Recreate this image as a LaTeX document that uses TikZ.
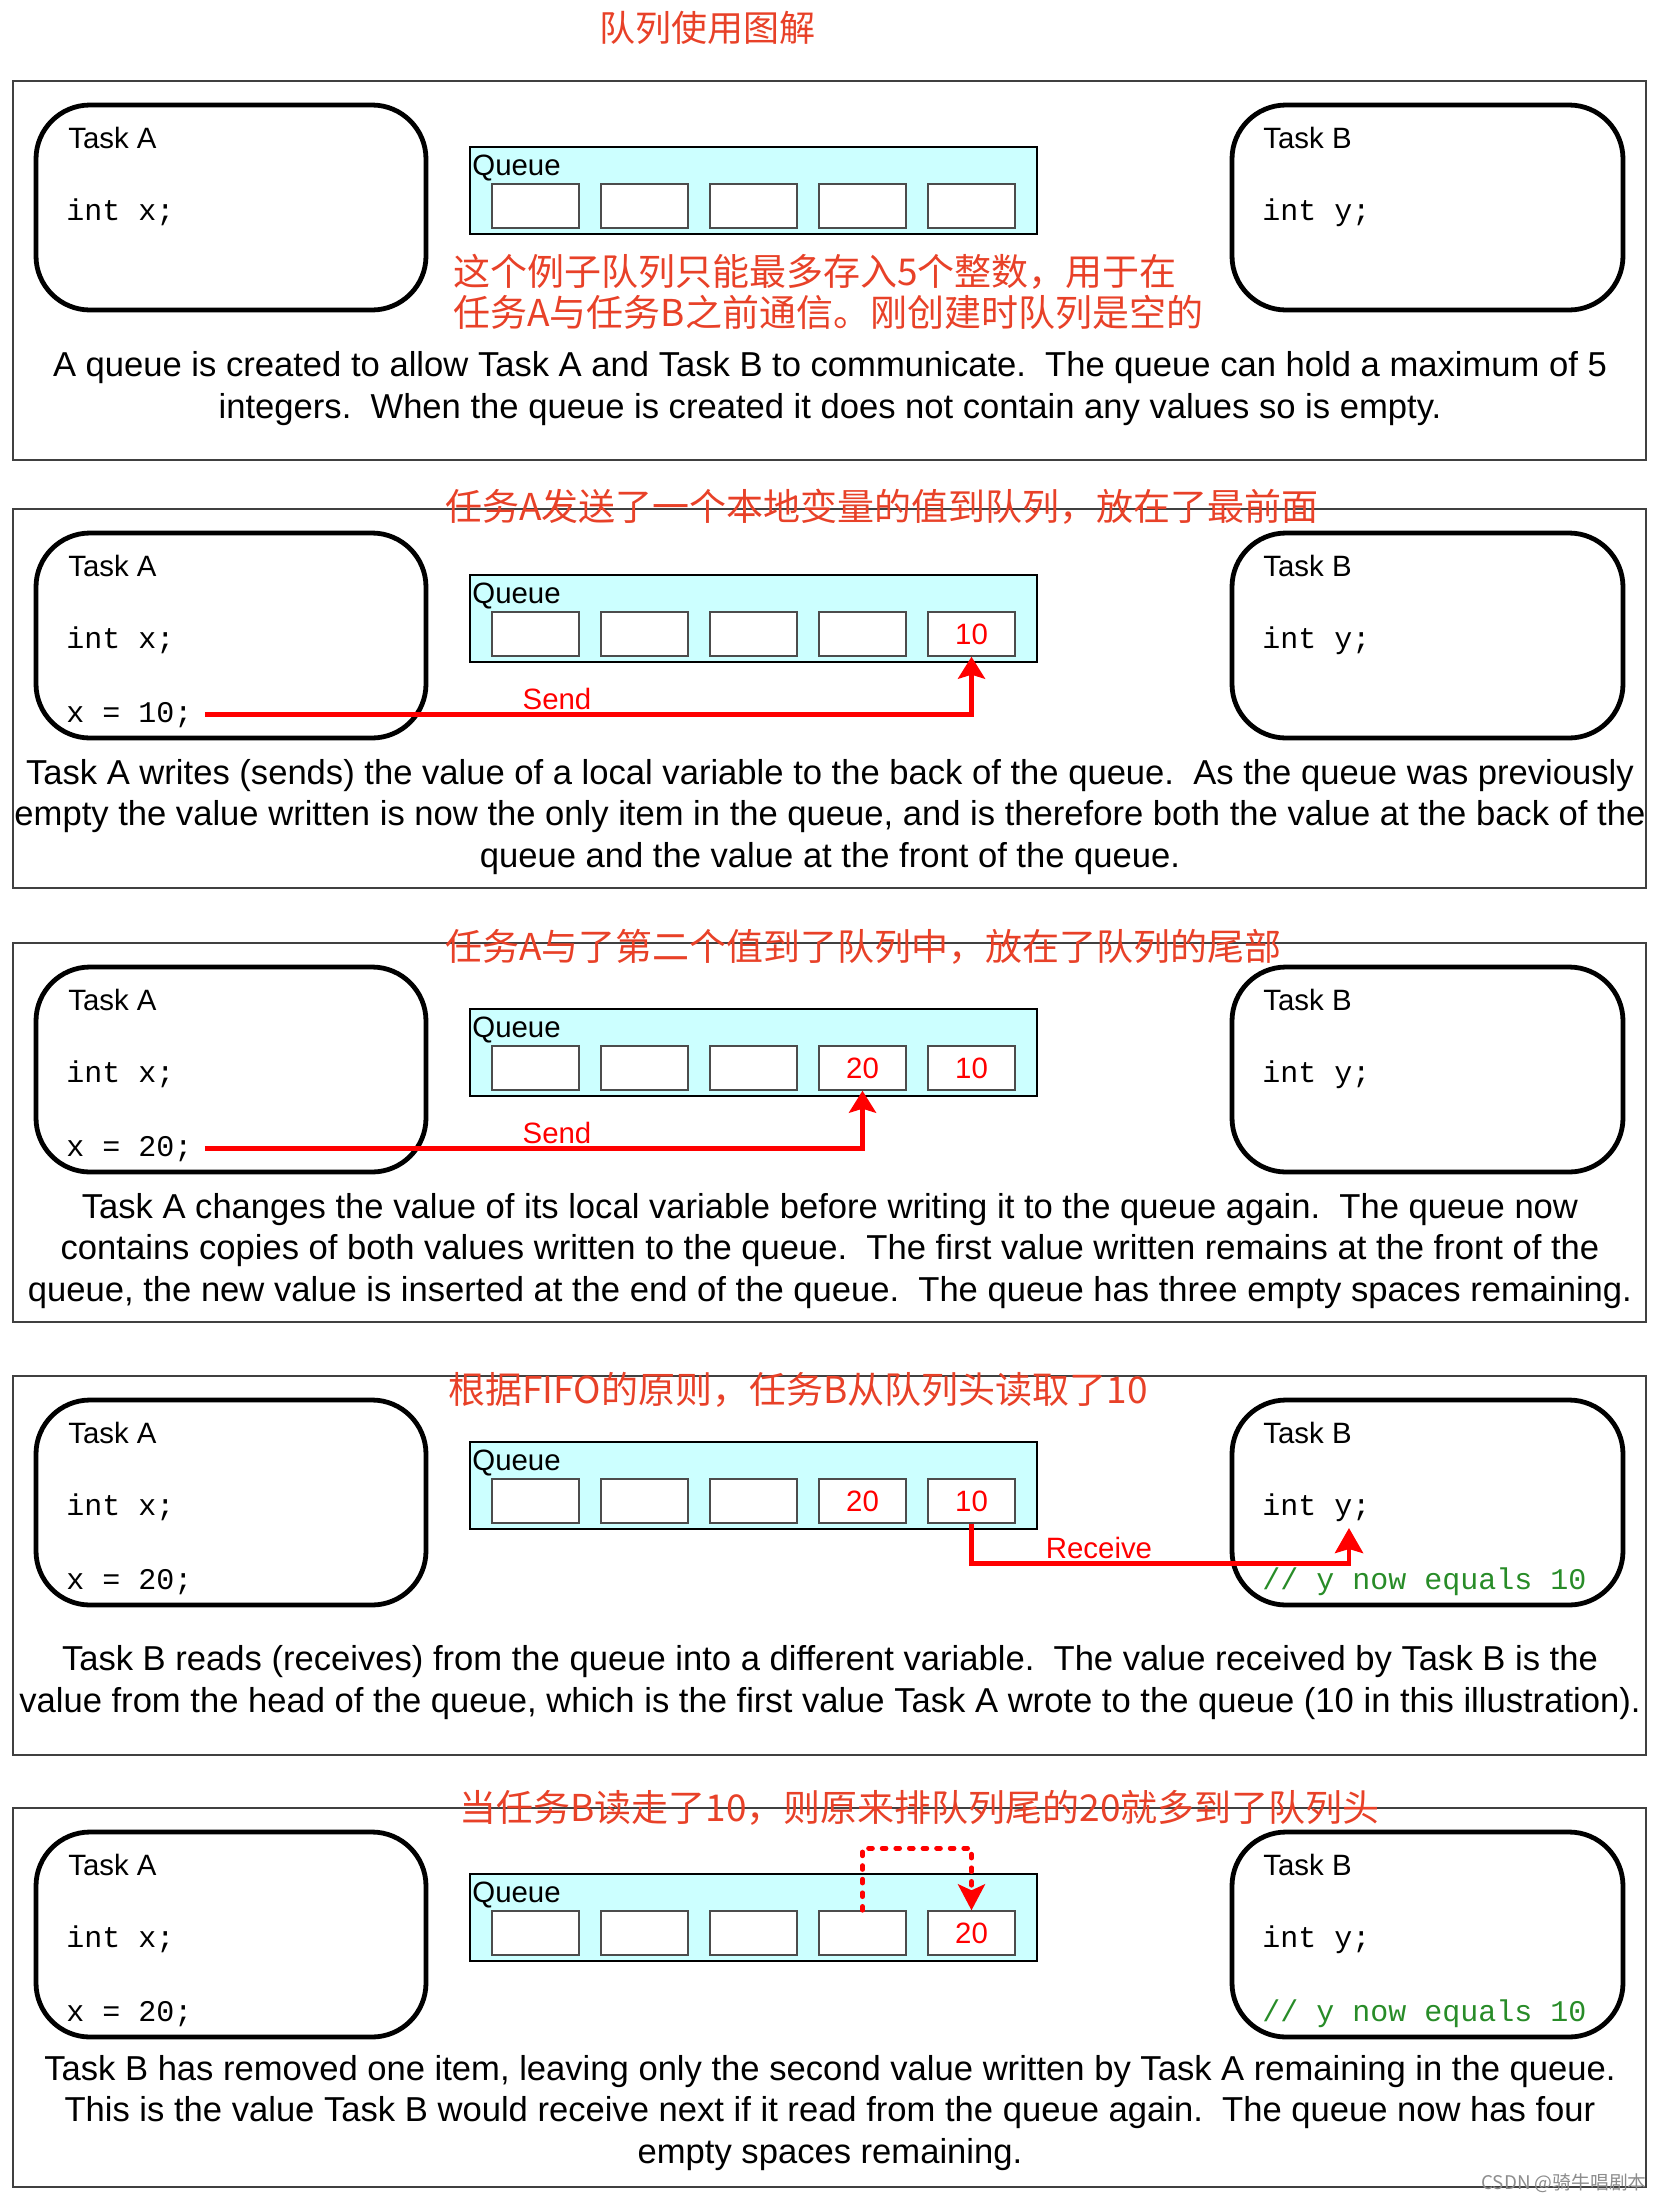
\documentclass[tikz,border=0pt]{standalone}
\usepackage{fontspec}
\setmainfont{Liberation Sans}
\setmonofont{Liberation Mono}
\newfontfamily\cjk{Noto Sans CJK SC}
\usetikzlibrary{arrows.meta}

\definecolor{qcyan}{RGB}{204,255,255}
\definecolor{notered}{RGB}{232,65,40}
\definecolor{cmtgreen}{RGB}{40,140,40}

\newcommand\taskfont{\fontsize{14.7}{17}\selectfont}
\newcommand\codefont{\ttfamily\fontsize{15}{17}\selectfont}
\newcommand\descfont{\fontsize{17.3}{20.75}\selectfont}
\newcommand\notefont{\cjk\fontsize{18.5}{20.5}\selectfont}
\newcommand\wmfont{\cjk\fontsize{9.4}{11}\selectfont}

\tikzset{
  panel/.style={draw=black!75, line width=0.8pt},
  taskbox/.style={draw=black, line width=2.4pt, rounded corners=27pt},
  queuebox/.style={draw=black, fill=qcyan, line width=0.6pt},
  cell/.style={draw=black!70, fill=white, line width=0.7pt, inner sep=0pt,
    minimum width=43.5pt, minimum height=22pt},
  tasktxt/.style={anchor=base west, inner sep=0pt, font=\taskfont},
  codetxt/.style={anchor=base west, inner sep=0pt, font=\codefont},
  val/.style={inner sep=0pt, text=red, font=\taskfont},
  redlbl/.style={anchor=base, inner sep=0pt, text=red, font=\taskfont},
  cnnote/.style={anchor=west, inner sep=0pt, text=notered, font=\notefont},
  desc/.style={anchor=base, align=center, inner sep=0pt, font=\descfont},
  sendline/.style={draw=red, line width=2.3pt,
    -{Stealth[length=11pt, width=13.5pt, inset=2pt]}},
  moved/.style={draw=red, line width=2.3pt, line cap=round,
    dash pattern=on 2pt off 4.8pt,
    -{Stealth[length=13pt, width=13.5pt, inset=3pt]}}
}

\begin{document}
\begin{tikzpicture}[x=0.5pt, y=-0.5pt]
  \path[use as bounding box] (0,0) rectangle (1662,2202);

  \node[cnnote, anchor=center, font=\cjk\fontsize{18}{20}\selectfont] (title) at (707,28) {队列使用图解};

  % the same frame, tasks and queue in every step
  \foreach \k/\t in {1/81, 2/509, 3/943, 4/1376, 5/1808} {
    \draw[panel] (13,\t) rectangle (1646,\t+379);
    \draw[taskbox] (36,\t+24) rectangle (426,\t+229);
    \draw[taskbox] (1232,\t+24) rectangle (1623,\t+229);
    \draw[queuebox] (470,\t+66) rectangle (1037,\t+153);
    \node[tasktxt] (ql\k) at (472,\t+94) {Queue};
    \foreach \i in {1,...,5}
      \node[cell] (q\k-\i) at (535.5+109*\i-109,\t+125) {};
    \node[tasktxt] (ta\k) at (68,\t+67) {Task A};
    \node[codetxt] (ix\k) at (66,\t+139) {int x;};
    \node[tasktxt] (tb\k) at (1263,\t+67) {Task B};
    \node[codetxt] (iy\k) at (1262,\t+139) {int y;};
  }

  % step 1: empty queue
  \node[cnnote, align=left] (n1) at (453,292) {这个例子队列只能最多存入5个整数，用于在\\任务A与任务B之前通信。刚创建时队列是空的};
  \node[desc] (d1) at (830,418) {A queue is created to allow Task A and Task B to communicate.\ \ The queue can hold a maximum of 5\\
    integers.\ \ When the queue is created it does not contain any values so is empty.};

  % step 2: send 10
  \node[cnnote] (n2) at (445,507) {任务A发送了一个本地变量的值到队列，放在了最前面};
  \node[codetxt] (xa2) at (66,722) {x = 10;};
  \node[val] (v2-5) at (q2-5) {10};
  \draw[sendline] ([xshift=6pt]xa2.east) -| (q2-5.south);
  \node[redlbl] (s2) at (557,709) {Send};
  \node[desc] (d2) at (830,867) {Task A writes (sends) the value of a local variable to the back of the queue.\ \ As the queue was previously\\
    empty the value written is now the only item in the queue, and is therefore both the value at the back of the\\
    queue and the value at the front of the queue.};

  % step 3: send 20
  \node[cnnote] (n3) at (445,947) {任务A与了第二个值到了队列中，放在了队列的尾部};
  \node[codetxt] (xa3) at (66,1156) {x = 20;};
  \node[val] (v3-4) at (q3-4) {20};
  \node[val] (v3-5) at (q3-5) {10};
  \draw[sendline] ([xshift=6pt]xa3.east) -| (q3-4.south);
  \node[redlbl] (s3) at (557,1143) {Send};
  \node[desc] (d3) at (830,1301) {Task A changes the value of its local variable before writing it to the queue again.\ \ The queue now\\
    contains copies of both values written to the queue.\ \ The first value written remains at the front of the\\
    queue, the new value is inserted at the end of the queue.\ \ The queue has three empty spaces remaining.};

  % step 4: receive 10
  \node[cnnote] (n4) at (448,1390) {根据FIFO的原则，任务B从队列头读取了10};
  \node[codetxt] (xa4) at (66,1589) {x = 20;};
  \node[codetxt, text=cmtgreen] (cm4) at (1262,1589) {// y now equals 10};
  \node[val] (v4-4) at (q4-4) {20};
  \node[val] (v4-5) at (q4-5) {10};
  \coordinate (rt4) at (1349,1528);
  \draw[sendline, -{Stealth[length=12.5pt, width=14pt, inset=2pt]}] (q4-5.south) -- ++(0,40) -| (rt4);
  \node[redlbl] (r4) at (1099,1558) {Receive};
  \node[desc] (d4) at (830,1712) {Task B reads (receives) from the queue into a different variable.\ \ The value received by Task B is the\\
    value from the head of the queue, which is the first value Task A wrote to the queue (10 in this illustration).};

  % step 5: 20 moves to the head
  \node[cnnote] (n5) at (459,1808) {当任务B读走了10，则原来排队列尾的20就多到了队列头};
  \node[codetxt] (xa5) at (66,2021) {x = 20;};
  \node[codetxt, text=cmtgreen] (cm5) at (1262,2021) {// y now equals 10};
  \node[val] (v5-5) at (q5-5) {20};
  \draw[moved] (q5-4.north) -- ++(0,-62) -| (q5-5.north);
  \node[desc] (d5) at (830,2163) {Task B has removed one item, leaving only the second value written by Task A remaining in the queue.\\
    This is the value Task B would receive next if it read from the queue again.\ \ The queue now has four\\
    empty spaces remaining.};

  \node[anchor=east, inner sep=0pt, text=black!45, font=\wmfont] (wm) at (1647,2183) {CSDN @骑牛唱剧本};
\end{tikzpicture}
\end{document}
